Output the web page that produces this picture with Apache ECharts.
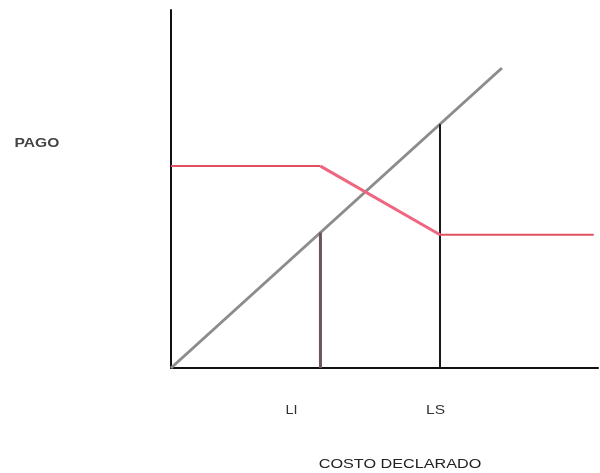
<!DOCTYPE html>
<html>
<head>
<meta charset="utf-8">
<script src="https://cdn.jsdelivr.net/npm/echarts@6/dist/echarts.min.js"></script>
<style>
  html, body { margin: 0; padding: 0; background: #fff; }
  #chart { width: 600px; height: 473px; }
</style>
</head>
<body>
<div id="chart"></div>
<script>
// Cost declared (x) vs. payment (y), arbitrary units 0..100
const costLine = [[0, 0], [77.5, 83.8]];             // payment = declared cost
const payLine = [[0, 56.4], [35, 56.4], [63, 37.2], [99, 37.2]]; // payment schedule
const LI = 35;   // lower limit
const LS = 63;   // upper limit
const limitNames = ['LI', 'LS'];
const yTitle = 'PAGO';
const xTitle = 'COSTO DECLARADO';
const slope = costLine[1][1] / costLine[1][0];

const chart = echarts.init(document.getElementById('chart'), null, { renderer: 'canvas' });

const option = {
  animation: false,
  backgroundColor: '#ffffff',
  grid: { left: 171, top: 10, width: 427, height: 358, containLabel: false },
  xAxis: {
    type: 'value', min: 0, max: 100,
    axisLine: { show: true, onZero: false, lineStyle: { color: '#111', width: 2 } },
    axisTick: { show: false }, axisLabel: { show: false }, splitLine: { show: false }
  },
  yAxis: {
    type: 'value', min: 0, max: 100,
    axisLine: { show: true, onZero: false, lineStyle: { color: '#111', width: 2 } },
    axisTick: { show: false }, axisLabel: { show: false }, splitLine: { show: false }
  },
  series: [
    {
      type: 'line', data: costLine, symbol: 'none',
      lineStyle: { color: '#8c8c8c', width: 3 }, z: 2
    },
    {
      type: 'line', data: [[LI, 0], [LI, LI * slope]], symbol: 'none',
      lineStyle: { color: '#6a5858', width: 3 }, z: 3
    },
    {
      type: 'line', data: [[LS, 0], [LS, LS * slope]], symbol: 'none',
      lineStyle: { color: '#1a1a1a', width: 2 }, z: 3
    },
    // flat parts of the payment schedule
    {
      type: 'line', data: payLine.slice(0, 2), symbol: 'none',
      lineStyle: { color: '#e2505f', width: 2 }, z: 4
    },
    {
      type: 'line', data: payLine.slice(2), symbol: 'none',
      lineStyle: { color: '#e2505f', width: 2 }, z: 4
    },
    // decreasing part between the limits
    {
      type: 'line', data: payLine.slice(1, 3), symbol: 'none',
      lineStyle: { color: '#ee6680', width: 3 }, z: 4
    }
  ]
};
chart.setOption(option);

const font = 'Liberation Sans, Arial, sans-serif';
const pLI = chart.convertToPixel({ gridIndex: 0 }, [LI, 0]);
const pLS = chart.convertToPixel({ gridIndex: 0 }, [LS, 0]);

chart.setOption({
  graphic: [
    {
      type: 'text', x: 37, y: 144, scaleX: 1.3,
      style: { text: yTitle, fill: '#444', font: 'bold 12px ' + font, align: 'center', verticalAlign: 'middle' }
    },
    {
      type: 'text', x: pLI[0] - 29, y: 411, scaleX: 1.2,
      style: { text: limitNames[0], fill: '#333', font: '12px ' + font, align: 'center', verticalAlign: 'middle' }
    },
    {
      type: 'text', x: pLS[0] - 4.5, y: 411, scaleX: 1.3,
      style: { text: limitNames[1], fill: '#333', font: '12px ' + font, align: 'center', verticalAlign: 'middle' }
    },
    {
      type: 'text', x: 400, y: 465, scaleX: 1.35,
      style: { text: xTitle, fill: '#222', font: '12px ' + font, align: 'center', verticalAlign: 'middle' }
    }
  ]
});
</script>
</body>
</html>
